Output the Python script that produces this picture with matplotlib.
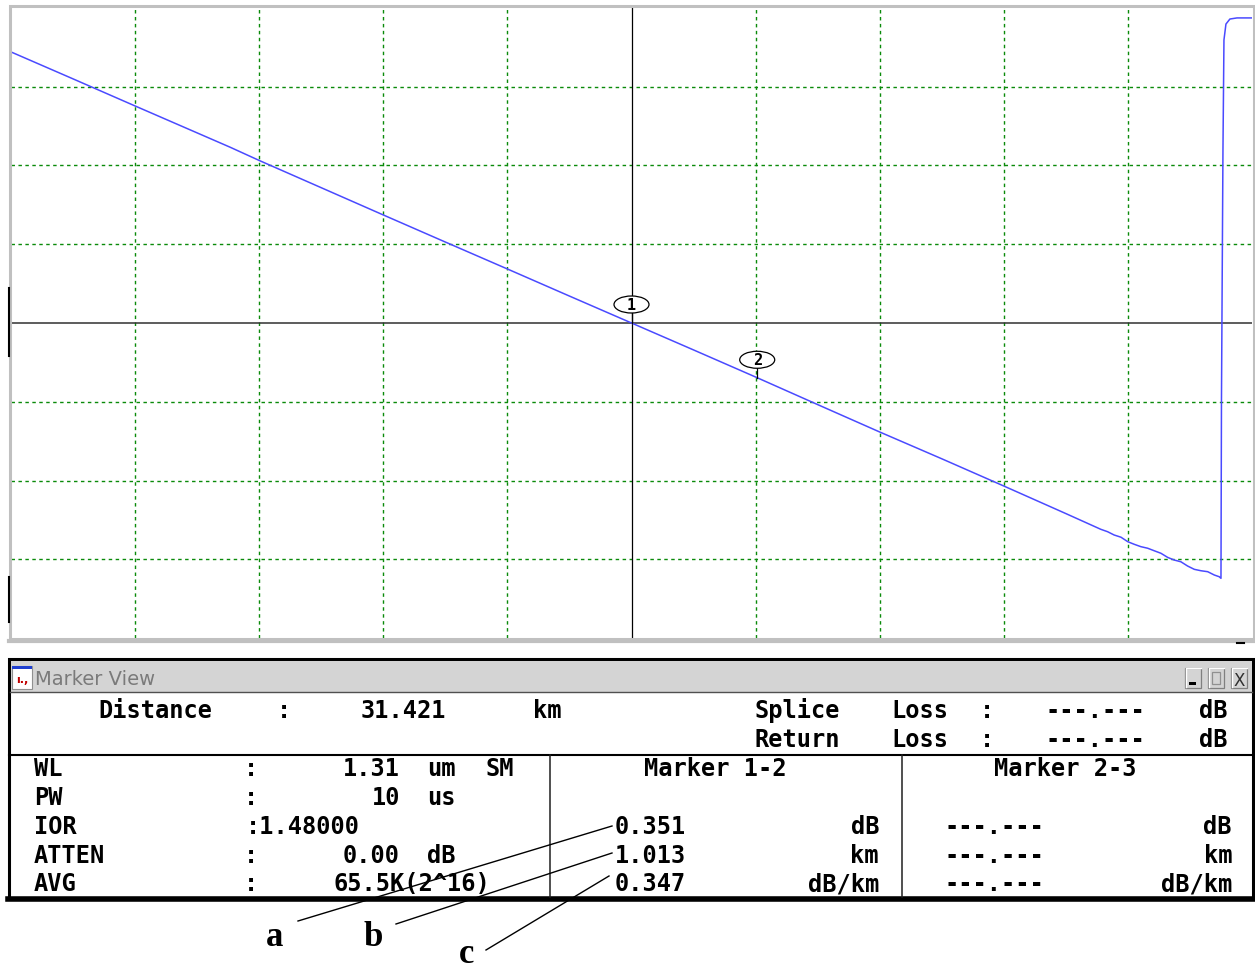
#!/usr/bin/env python3
"""
plot.py
Redraw of an OTDR trace screen with its Marker View panel.
"""

import numpy as np
import matplotlib
matplotlib.use("Agg")
import matplotlib.pyplot as plt
from matplotlib.patches import Ellipse, Rectangle
from matplotlib.transforms import ScaledTranslation

W, H = 1255, 971

# trace: distance (km) and relative level (dB)
distance_km = [26.421, 26.921, 27.421, 27.921, 28.187, 28.421, 28.921, 29.421,
               29.921, 30.421, 30.921, 31.421, 31.921, 32.421, 32.921, 33.421,
               33.921, 34.421, 34.921, 35.203, 35.257, 35.310, 35.365, 35.421,
               35.472, 35.525, 35.580, 35.633, 35.687, 35.741, 35.794, 35.848,
               35.902, 35.956, 36.010, 36.064, 36.117, 36.157, 36.171, 36.175,
               36.187, 36.195, 36.211, 36.243, 36.300, 36.429]
level_db = [1.721, 1.550, 1.378, 1.207, 1.116, 1.032, 0.859, 0.686,
            0.514, 0.343, 0.171, 0.000, -0.171, -0.343, -0.518, -0.692,
            -0.862, -1.035, -1.210, -1.310, -1.325, -1.346, -1.360, -1.389,
            -1.405, -1.420, -1.430, -1.446, -1.462, -1.488, -1.505, -1.516,
            -1.543, -1.564, -1.573, -1.579, -1.600, -1.611, -1.621, -0.489,
            1.098, 1.797, 1.898, 1.930, 1.937, 1.937]

marker_km = [31.421, 32.434]
marker_db = [0.000, -0.351]
marker_names = ["1", "2"]

km_per_div = 1.0
db_per_div = 0.5

# Marker View panel text
distance_text = "31.421"
info_labels = ["WL", "PW", "IOR", "ATTEN", "AVG"]
info_values = ["1.31", "10", "1.48000", "0.00", "65.5K(2^16)"]
info_units = [["um", "SM"], ["us"], [], ["dB"], []]
m12_values = ["0.351", "1.013", "0.347"]
m23_values = ["---.---", "---.---", "---.---"]
m_units = ["dB", "km", "dB/km"]
callout_letters = ["a", "b", "c"]


def frac(x0, y0, x1, y1):
    return [x0 / W, 1 - y1 / H, (x1 - x0) / W, (y1 - y0) / H]


def draw_trace(fig):
    ax = fig.add_axes(frac(11, 8, 1252, 638))
    m1 = marker_km[0]
    ax.set_xticks([])
    ax.set_yticks([])
    for s in ax.spines.values():
        s.set_visible(False)

    grid = dict(color="#0a8a0a", linestyle=(0, (2.5, 2.5)), linewidth=1.0, zorder=1)
    for k in range(-4, 5):
        if k != 0:
            ax.axvline(m1 + k * km_per_div, **grid)
    for k in range(-3, 4):
        if k != 0:
            ax.axhline(marker_db[0] + k * db_per_div, **grid)

    ax.axvline(m1, color="black", lw=0.9, zorder=2)
    ax.axhline(marker_db[0], color="#303030", lw=1.1, zorder=2)
    ax.plot(distance_km, level_db, color="#4a4aff", lw=1.1, zorder=4)

    for mx, my, name in zip(marker_km, marker_db, marker_names):
        tr = fig.dpi_scale_trans + ScaledTranslation(mx, my, ax.transData)
        ax.plot([0, 0], [0, 0.10], transform=tr, color="black", lw=0.9, zorder=5)
        ax.add_patch(Ellipse((0, 0.185), 0.35, 0.17, transform=tr, fc="white",
                             ec="black", lw=0.9, zorder=6))
        ax.text(0, 0.18, name, transform=tr, ha="center", va="center",
                family="DejaVu Sans Mono", fontweight="bold", fontsize=11, zorder=7)

    ax.set_xlim(m1 - 5 * km_per_div, m1 + 5 * km_per_div)
    ax.set_ylim(-4 * db_per_div, 4 * db_per_div)
    return ax


def draw_panel(ov):
    # gray frame of the trace screen
    ov.add_patch(Rectangle((9.5, 6.5), 1244, 633, fill=False, ec="#c0c0c0", lw=2.2))
    ov.plot([9, 1254], [641, 641], color="#c0c0c0", lw=3)
    ov.plot([8.5, 8.5], [288, 356], color="black", lw=1.5)
    ov.plot([8.5, 8.5], [577, 622], color="black", lw=1.5)
    ov.plot([1237, 1244], [643, 643], color="black", lw=1.5)

    # window
    ov.add_patch(Rectangle((9, 659), 1244, 240, fc="white", ec="black", lw=2.2))
    ov.add_patch(Rectangle((10.5, 661), 1241, 31, fc="#d4d4d4", ec="none"))
    ov.plot([10, 1252], [692.5, 692.5], color="#505050", lw=1)
    ov.plot([9, 1253], [755, 755], color="black", lw=1.5)
    ov.plot([8, 1254], [899, 899], color="black", lw=4)
    ov.plot([550, 550], [755, 897], color="#202020", lw=1.1)
    ov.plot([902, 902], [755, 897], color="#202020", lw=1.1)

    # title bar icon + caption
    ov.add_patch(Rectangle((12, 666), 20, 23, fc="white", ec="#909090", lw=0.8))
    ov.add_patch(Rectangle((12, 666), 20, 3, fc="#1f3fd0", ec="none"))
    ov.text(22, 683, "ı.,", ha="center", va="baseline", color="#c00000",
            fontsize=8, fontweight="bold")
    ov.text(35, 685, "Marker View", family="Liberation Sans Narrow",
            fontsize=14, color="#7a7a7a", va="baseline")

    # title bar buttons
    for bx in [1185, 1208, 1231]:
        ov.add_patch(Rectangle((bx, 668), 16, 20, fc="#d4d4d4", ec="#808080", lw=0.9))
        ov.plot([bx + 0.5, bx + 0.5, bx + 15.5], [687.5, 668.5, 668.5], color="white", lw=1)
    ov.add_patch(Rectangle((1189, 682), 7, 3, fc="black", ec="none"))
    ov.add_patch(Rectangle((1212, 672), 8, 12, fc="none", ec="#909090", lw=0.9))
    ov.text(1239, 686, "X", ha="center", va="baseline", fontsize=12, color="#303030",
            family="DejaVu Sans")

    mono = dict(family="DejaVu Sans Mono", fontweight="bold", fontsize=17,
                color="black", va="baseline")

    # header rows
    r1, r2 = 718, 747
    ov.text(155, r1, "Distance", ha="center", **mono)
    ov.text(284, r1, ":", ha="center", **mono)
    ov.text(403, r1, distance_text, ha="center", **mono)
    ov.text(547, r1, "km", ha="center", **mono)
    for row, word in [(r1, "Splice"), (r2, "Return")]:
        ov.text(797, row, word, ha="center", **mono)
        ov.text(920, row, "Loss", ha="center", **mono)
        ov.text(987, row, ":", ha="center", **mono)
        ov.text(1095, row, "---.---", ha="center", **mono)
        ov.text(1228, row, "dB", ha="right", **mono)

    # left column
    rows = [776, 805, 834, 863, 891]
    for row, lab, val, unit in zip(rows, info_labels, info_values, info_units):
        ov.text(34, row, lab, ha="left", **mono)
        if lab == "IOR":
            ov.text(246, row, ":" + val, ha="left", **mono)
        elif lab == "AVG":
            ov.text(251, row, ":", ha="center", **mono)
            ov.text(412, row, val, ha="center", **mono)
        else:
            ov.text(251, row, ":", ha="center", **mono)
            ov.text(400, row, val, ha="right", **mono)
        for k, u in enumerate(unit):
            ov.text(441 + 59 * k, row, u, ha="center", **mono)

    # marker columns
    ov.text(715, rows[0], "Marker 1-2", ha="center", **mono)
    ov.text(1065, rows[0], "Marker 2-3", ha="center", **mono)
    for row, v12, v23, u in zip(rows[2:], m12_values, m23_values, m_units):
        ov.text(615, row, v12, ha="left", **mono)
        ov.text(879, row, u, ha="right", **mono)
        ov.text(994, row, v23, ha="center", **mono)
        ov.text(1232, row, u, ha="right", **mono)

    # callouts a, b, c
    letter_xy = [(275, 946), (373, 946), (467, 963)]
    line_from = [(298, 921), (396, 924), (486, 950)]
    line_to = [(612, 826), (612, 853), (609, 876)]
    for letter, (lx, ly), p0, p1 in zip(callout_letters, letter_xy, line_from, line_to):
        ov.text(lx, ly, letter, ha="center", va="baseline", family="Liberation Serif",
                fontweight="bold", fontsize=25)
        ov.plot([p0[0], p1[0]], [p0[1], p1[1]], color="black", lw=1.0)


def main():
    fig = plt.figure(figsize=(W / 100, H / 100), dpi=100)
    fig.patch.set_facecolor("white")

    draw_trace(fig)

    ov = fig.add_axes([0, 0, 1, 1], zorder=5)
    ov.patch.set_alpha(0)
    ov.set_xlim(0, W)
    ov.set_ylim(H, 0)
    ov.axis("off")
    draw_panel(ov)

    fig.savefig("out.png", dpi=100)
    plt.close(fig)


if __name__ == "__main__":
    main()
